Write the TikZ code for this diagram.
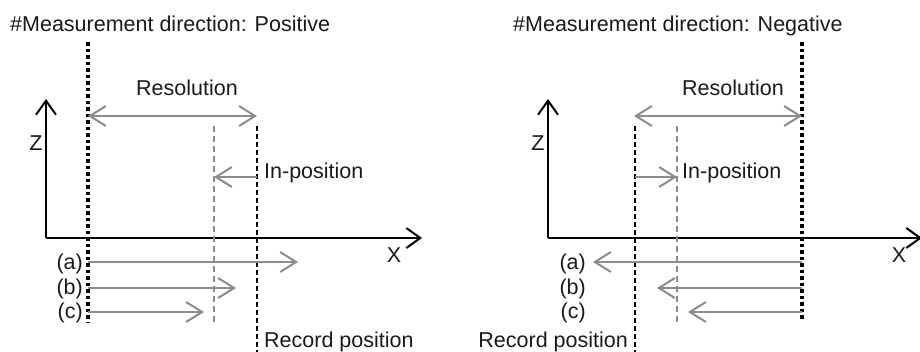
\documentclass[tikz,border=0pt]{standalone}
\usepackage{fontspec}
\setmainfont{Liberation Sans}
\usetikzlibrary{arrows.meta}
\definecolor{arrgray}{HTML}{8C8C8C}
\definecolor{txt}{HTML}{1A1A1A}
\begin{document}
\begin{tikzpicture}[x=1pt,y=-1pt,
  lbl/.style={inner sep=0pt,text=txt,font=\fontsize{21.5}{24}\selectfont},
  axis/.style={line width=2pt,-{Straight Barb[length=14pt,width=20pt,line width=2pt]}},
  garrow/.style={arrgray,line width=2pt,-{Straight Barb[length=16pt,width=20pt,line width=2pt]}},
  gdouble/.style={arrgray,line width=2pt,{Straight Barb[length=16pt,width=20pt,line width=2pt]}-{Straight Barb[length=16pt,width=20pt,line width=2pt]}},
  thickdot/.style={line width=3.5pt,dash pattern=on 3.5pt off 3pt},
  recdash/.style={line width=1.5pt,dash pattern=on 5pt off 3pt},
  indash/.style={arrgray,line width=1.5pt,dash pattern=on 6pt off 4pt}]
\useasboundingbox (0,0) rectangle (920,351);
\fill[white] (0,0) rectangle (920,351);

% ---------- Left panel ----------
\node[lbl,anchor=base west] (t1) at (10,31) {\#Measurement direction: Positive};
\coordinate (LsT) at (88,42);
\coordinate (LsB) at (88,323);
\draw[thickdot] (LsT) -- (LsB);
\coordinate (Lo) at (46,238);
\coordinate (Lz) at (46,99);
\coordinate (Lx) at (422,238);
\draw[axis] (Lo) -- (Lz);
\draw[axis] (Lo) -- (Lx);
\node[lbl] (Lzl) at (36,143) {Z};
\node[lbl] (Lxl) at (394,255) {X};
\coordinate (LrA) at (88,116);
\coordinate (LrB) at (257,116);
\draw[gdouble] (LrA) -- (LrB);
\node[lbl,anchor=base] (Lres) at (187,95) {Resolution};
\coordinate (LrecT) at (257,126);
\coordinate (LrecB) at (257,353);
\draw[recdash] (LrecT) -- (LrecB);
\coordinate (LinT) at (214,126);
\coordinate (LinB) at (214,323);
\draw[indash] (LinT) -- (LinB);
\coordinate (LipA) at (257,177);
\coordinate (LipB) at (214,177);
\draw[garrow] (LipA) -- (LipB);
\node[lbl,anchor=base west] (Lip) at (264,178) {In-position};
\node[lbl,anchor=base west] (Lrec) at (264,347) {Record position};
\coordinate (La0) at (88,262); \coordinate (La1) at (298,262);
\coordinate (Lb0) at (88,288); \coordinate (Lb1) at (236,288);
\coordinate (Lc0) at (88,312); \coordinate (Lc1) at (204,312);
\draw[garrow] (La0) -- (La1);
\draw[garrow] (Lb0) -- (Lb1);
\draw[garrow] (Lc0) -- (Lc1);
\node[lbl,anchor=east] (Lla) at (83,264) {(a)};
\node[lbl,anchor=east] (Llb) at (83,289) {(b)};
\node[lbl,anchor=east] (Llc) at (83,313) {(c)};

% ---------- Right panel ----------
\node[lbl,anchor=base west] (t2) at (513,31) {\#Measurement direction: Negative};
\coordinate (RsT) at (802,42);
\coordinate (RsB) at (802,320);
\draw[thickdot] (RsT) -- (RsB);
\coordinate (Ro) at (548,238);
\coordinate (Rz) at (548,99);
\coordinate (Rx) at (922,238);
\draw[axis] (Ro) -- (Rz);
\draw[axis] (Ro) -- (Rx);
\node[lbl] (Rzl) at (538,143) {Z};
\node[lbl] (Rxl) at (899,255) {X};
\coordinate (RrA) at (634,116);
\coordinate (RrB) at (802,116);
\draw[gdouble] (RrA) -- (RrB);
\node[lbl,anchor=base] (Rres) at (733,95) {Resolution};
\coordinate (RrecT) at (635,126);
\coordinate (RrecB) at (635,353);
\draw[recdash] (RrecT) -- (RrecB);
\coordinate (RinT) at (677,126);
\coordinate (RinB) at (677,324);
\draw[indash] (RinT) -- (RinB);
\coordinate (RipA) at (635,177);
\coordinate (RipB) at (677,177);
\draw[garrow] (RipA) -- (RipB);
\node[lbl,anchor=base west] (Rip) at (682,178) {In-position};
\node[lbl,anchor=base east] (Rrec) at (628,347) {Record position};
\coordinate (Ra0) at (802,262); \coordinate (Ra1) at (593,262);
\coordinate (Rb0) at (802,288); \coordinate (Rb1) at (657,288);
\coordinate (Rc0) at (802,312); \coordinate (Rc1) at (688,312);
\draw[garrow] (Ra0) -- (Ra1);
\draw[garrow] (Rb0) -- (Rb1);
\draw[garrow] (Rc0) -- (Rc1);
\node[lbl,anchor=east] (Rla) at (586,264) {(a)};
\node[lbl,anchor=east] (Rlb) at (586,289) {(b)};
\node[lbl,anchor=east] (Rlc) at (586,313) {(c)};
\end{tikzpicture}
\end{document}
